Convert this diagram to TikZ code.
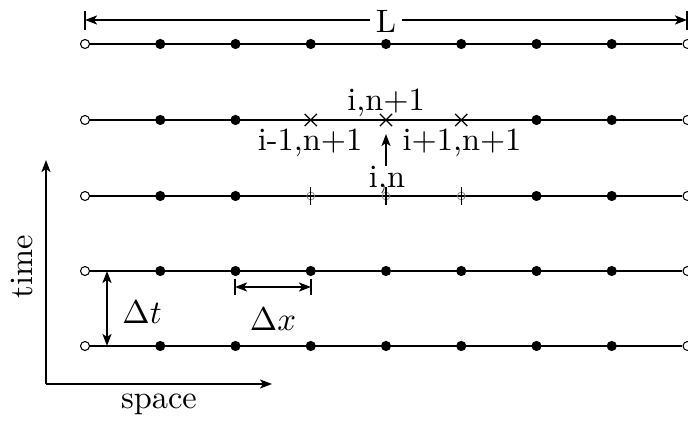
\documentclass[tikz,border=0pt]{standalone}
\usetikzlibrary{arrows.meta,shapes.misc}
\begin{document}
\begin{tikzpicture}[x=0.3333pt,y=-0.3333pt,line width=0.7pt,>={Stealth[length=4pt,width=3pt,inset=1pt]},
  font=\fontsize{10.8}{13}\selectfont,
  opendot/.style={circle,draw,fill=white,inner sep=0pt,minimum size=3pt,line width=0.35pt},
  fulldot/.style={circle,fill,inner sep=0pt,minimum size=3.4pt},
  crossmark/.style={cross out,draw,inner sep=0pt,minimum size=3.6pt,line width=0.45pt},
  tickmark/.style={circle,draw=gray,inner sep=0pt,minimum size=2.6pt,line width=0.25pt},
  lbl/.style={inner sep=1pt}]
\useasboundingbox (0,0) rectangle (688,421);
% rows
\foreach \r/\y in {1/44,2/120,3/196,4/271,5/346}{
  \node[opendot] (o\r0) at (85,\y) {};
  \node[opendot] (o\r8) at (687.5,\y) {};
  \draw (o\r0) -- (o\r8);
}
\foreach \r/\y in {1/44,4/271,5/346}{
  \foreach \i in {1,...,7}{
    \node[fulldot] (d\r\i) at ({85+75.25*\i},\y) {};
  }
}
\foreach \i in {1,2,6,7}{
  \node[fulldot] (d2\i) at ({85+75.25*\i},120) {};
  \node[fulldot] (d3\i) at ({85+75.25*\i},196) {};
}
\foreach \i in {3,4,5}{
  \node[crossmark] (c2\i) at ({85+75.25*\i},120) {};
  \node[tickmark] (t3\i) at ({85+75.25*\i},196) {};
  \coordinate (tt\i) at ({85+75.25*\i},187);
  \coordinate (tb\i) at ({85+75.25*\i},205);
  \draw[line width=0.35pt] (tt\i) -- (tb\i);
}
% L dimension
\coordinate (La) at (85,20);
\coordinate (Lb) at (687,20);
\coordinate (Lat) at (85,11);
\coordinate (Lab) at (85,30);
\coordinate (Lbt) at (687,11);
\coordinate (Lbb) at (687,30);
\draw (Lat) -- (Lab);
\draw (Lbt) -- (Lbb);
\draw[<->] (La) -- (Lb);
\node[fill=white,inner sep=2pt] (Lt) at (386,21) {L};
% labels
\node[lbl] (lc) at (386,103) {i,n+1};
\node[lbl] (ll) at (310,143) {i-1,n+1};
\node[lbl] (lr) at (462,143) {i+1,n+1};
\node[lbl] (ln) at (387,180) {i,n};
\coordinate (ar0) at (386,166);
\coordinate (ar1) at (386,134);
\draw[->] (ar0) -- (ar1);
% Delta t
\coordinate (dta) at (107,271);
\coordinate (dtb) at (107,346);
\coordinate (dtal) at (99,271);
\coordinate (dtar) at (116,271);
\coordinate (dtbl) at (99,346);
\coordinate (dtbr) at (116,346);
\draw (dtal) -- (dtar);
\draw (dtbl) -- (dtbr);
\draw[<->] (dta) -- (dtb);
\node[lbl] (dtl) at (142,312) {$\Delta t$};
% Delta x
\coordinate (dxa) at (235,287);
\coordinate (dxb) at (311,287);
\coordinate (dxat) at (235,279);
\coordinate (dxab) at (235,295);
\coordinate (dxbt) at (311,279);
\coordinate (dxbb) at (311,295);
\draw (dxat) -- (dxab);
\draw (dxbt) -- (dxbb);
\draw[<->] (dxa) -- (dxb);
\node[lbl] (dxl) at (273,319) {$\Delta x$};
% axes
\coordinate (O) at (46,384);
\coordinate (Ty) at (46,160);
\coordinate (Sx) at (272,384);
\draw[->] (O) -- (Ty);
\draw[->] (O) -- (Sx);
\node[lbl,rotate=90] (tl) at (22,267) {time};
\node[lbl] (sl) at (159,404) {space};
\end{tikzpicture}
\end{document}
